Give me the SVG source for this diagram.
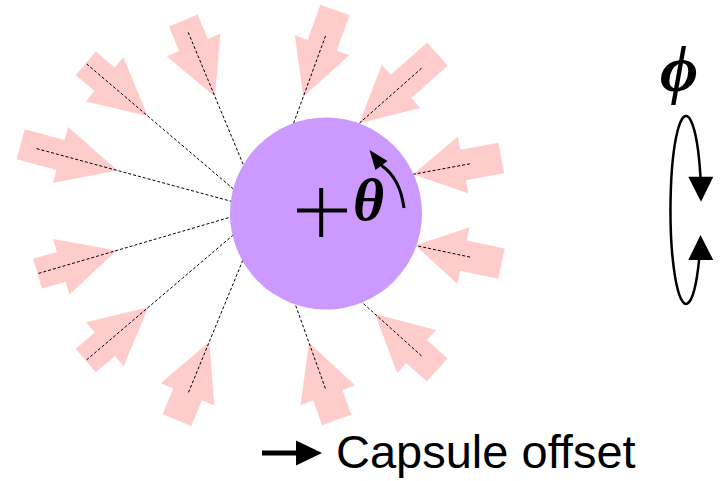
<svg xmlns="http://www.w3.org/2000/svg" width="724" height="481" viewBox="0 0 724 481">
<style>
.ar{fill:#FFCCCC;stroke:none}
.dl{stroke:#000;stroke-width:1;stroke-dasharray:3,2;fill:none}
.sym{font-family:"Liberation Serif","DejaVu Serif",serif;font-style:italic;font-weight:bold;fill:#000}
.lbl{font-family:"Liberation Sans",Arial,sans-serif;font-size:47px;fill:#000}
</style>
<rect width="724" height="481" fill="#fff"/>
<g id="beams">
<g id="beam1"><polygon class="ar" transform="translate(117.5,170.5) rotate(15.15)" points="0,0 -59,-29 -59,-15.5 -100.3,-15.5 -100.3,15.5 -59,15.5 -59,29"/></g>
<g id="beam2"><polygon class="ar" transform="translate(147.7,116) rotate(40.41)" points="0,0 -56.6,-29 -56.6,-15.5 -81.3,-15.5 -81.3,15.5 -56.6,15.5 -56.6,29"/></g>
<g id="beam3"><polygon class="ar" transform="translate(215,96.7) rotate(67.41)" points="0,0 -56,-29 -56,-15.5 -82.5,-15.5 -82.5,15.5 -56,15.5 -56,29"/></g>
<g id="beam4"><polygon class="ar" transform="translate(303.3,96.7) rotate(110.08)" points="0,0 -54.7,-29 -54.7,-15.5 -92.3,-15.5 -92.3,15.5 -54.7,15.5 -54.7,29"/></g>
<g id="beam5"><polygon class="ar" transform="translate(359.3,123.3) rotate(138.47)" points="0,0 -55.7,-29 -55.7,-15.5 -104.4,-15.5 -104.4,15.5 -55.7,15.5 -55.7,29"/></g>
<g id="beam6"><polygon class="ar" transform="translate(413.3,174.3) rotate(169.51)" points="0,0 -50.7,-29 -50.7,-15.5 -89.5,-15.5 -89.5,15.5 -50.7,15.5 -50.7,29"/></g>
<g id="beam7"><polygon class="ar" transform="translate(116.7,250.5) rotate(-16.33)" points="0,0 -57.8,-29 -57.8,-15.5 -82.5,-15.5 -82.5,15.5 -57.8,15.5 -57.8,29"/></g>
<g id="beam8"><polygon class="ar" transform="translate(148.3,307.3) rotate(-40.4)" points="0,0 -57,-29 -57,-15.5 -82.1,-15.5 -82.1,15.5 -57,15.5 -57,29"/></g>
<g id="beam9"><polygon class="ar" transform="translate(209.3,341.7) rotate(-67.63)" points="0,0 -57,-29 -57,-15.5 -84.9,-15.5 -84.9,15.5 -57,15.5 -57,29"/></g>
<g id="beam10"><polygon class="ar" transform="translate(309,342.7) rotate(-109.71)" points="0,0 -55.9,-29 -55.9,-15.5 -82.1,-15.5 -82.1,15.5 -55.9,15.5 -55.9,29"/></g>
<g id="beam11"><polygon class="ar" transform="translate(375,314) rotate(-138)" points="0,0 -56,-29 -56,-15.5 -83.7,-15.5 -83.7,15.5 -56,15.5 -56,29"/></g>
<g id="beam12"><polygon class="ar" transform="translate(415.5,245.5) rotate(-168.05)" points="0,0 -49,-29 -49,-15.5 -87.9,-15.5 -87.9,15.5 -49,15.5 -49,29"/></g>
</g>
<g id="connectors">
<line class="dl" x1="36.6" y1="148.6" x2="263" y2="209.9"/>
<line class="dl" x1="86.6" y1="63.9" x2="260.9" y2="212.4"/>
<line class="dl" x1="188.2" y1="32.3" x2="262.3" y2="210.3"/>
<line class="dl" x1="325.5" y1="35.9" x2="262" y2="209.7"/>
<line class="dl" x1="421.6" y1="68.2" x2="262.2" y2="209.1"/>
<line class="dl" x1="469.9" y1="163.8" x2="261.6" y2="202.4"/>
<line class="dl" x1="38.5" y1="273.4" x2="262.4" y2="207.8"/>
<line class="dl" x1="86.6" y1="359.9" x2="262.8" y2="209.8"/>
<line class="dl" x1="188.5" y1="392.4" x2="263.4" y2="210.2"/>
<line class="dl" x1="325.4" y1="388.5" x2="261.6" y2="210.4"/>
<line class="dl" x1="421.5" y1="355.9" x2="261.5" y2="211.8"/>
<line class="dl" x1="470.1" y1="257.1" x2="262.4" y2="213.1"/>
</g>
<g id="capsule">
<circle cx="326" cy="213.5" r="96" fill="#CC99FF"/>
<line x1="297" y1="210.5" x2="347" y2="210.5" stroke="#000" stroke-width="4"/>
<line x1="321.2" y1="188" x2="321.2" y2="237" stroke="#000" stroke-width="4"/>
<text class="sym" x="353" y="219.5" font-size="60">θ</text>
<path d="M404,208 Q400,178 381.5,165.5" fill="none" stroke="#000" stroke-width="3"/>
<polygon points="369.5,150 387.5,161 375.5,170" fill="#000"/>
</g>
<g id="phi">
<text class="sym" x="660" y="91" font-size="66">ϕ</text>
<path d="M700.5,177 A15.5,94 0 1 0 699.1,260" fill="none" stroke="#000" stroke-width="2.5"/>
<polygon points="688.3,176.7 713.3,176.7 701,201.7" fill="#000"/>
<polygon points="688.3,260 713.3,260 700.5,235" fill="#000"/>
</g>
<g id="legend">
<line x1="262" y1="453" x2="300" y2="453" stroke="#000" stroke-width="5"/>
<polygon points="296,440.5 322,453 296,465.5" fill="#000"/>
<text class="lbl" x="336" y="468">Capsule offset</text>
</g>
</svg>
